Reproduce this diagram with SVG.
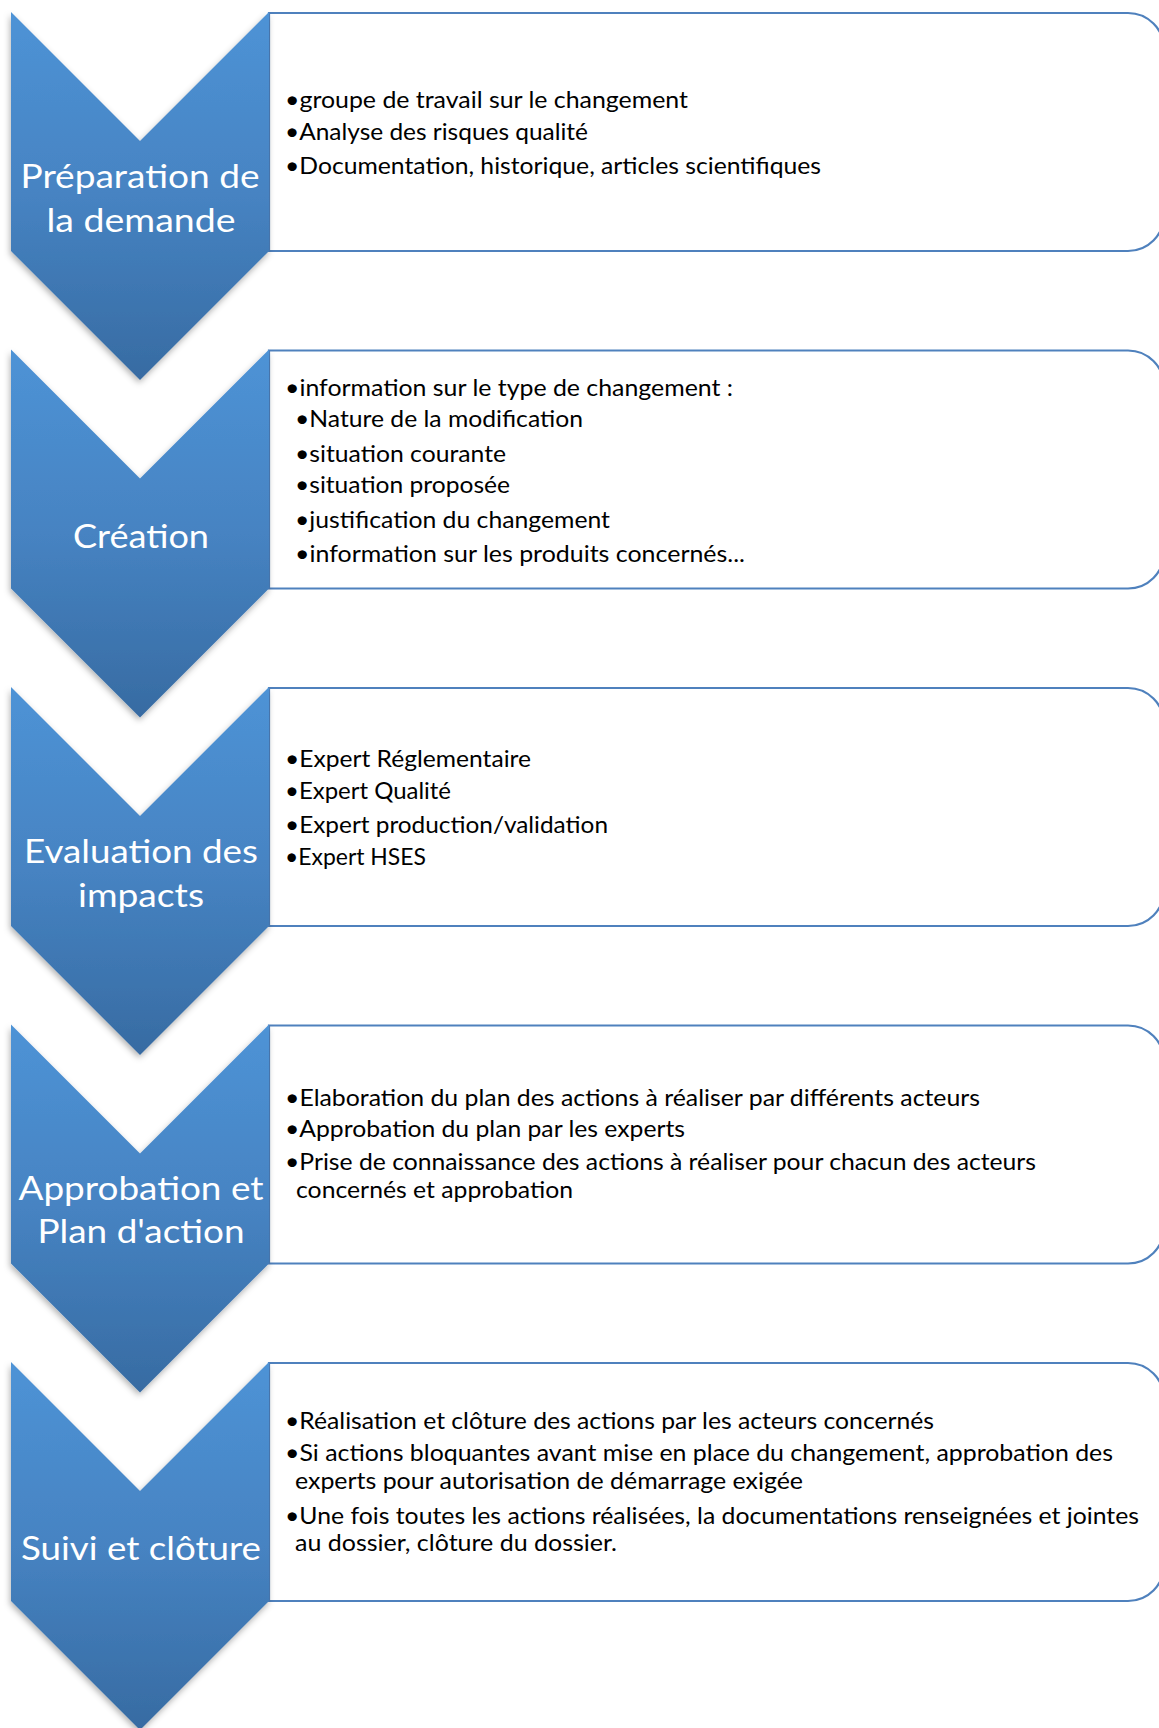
<svg xmlns="http://www.w3.org/2000/svg" width="1159" height="1728" viewBox="0 0 1159 1728">
<style>
.box{fill:#ffffff;stroke:#4F81BD;stroke-width:2.2}
.chev{fill:url(#cg);filter:url(#sh)}
.lbl{font-family:Lato,"Open Sans","Liberation Sans",sans-serif;font-size:33px;fill:#ffffff;text-anchor:middle}
.t{font-family:Lato,"Open Sans","Liberation Sans",sans-serif;font-size:24px;fill:#000000}
</style>
<defs>
<linearGradient id="cg" x1="0" y1="0" x2="0" y2="1">
<stop offset="0" stop-color="#4E93D6"/>
<stop offset="0.5" stop-color="#4683C2"/>
<stop offset="1" stop-color="#376BA2"/>
</linearGradient>
<filter id="sh" x="-10%" y="-10%" width="120%" height="120%">
<feDropShadow dx="-1" dy="3" stdDeviation="3" flood-color="#000000" flood-opacity="0.3"/>
</filter>
<path id="chevShape" d="M11,0 L140,129 L269,0 L269,239 L140,368 L11,239 Z"/>
<path id="boxShape" d="M269,1 H1128 A36,36 0 0 1 1164,37 V203 A36,36 0 0 1 1128,239 H269 Z"/>
</defs>
<g id="connectors"/>

<g id="step1" transform="translate(0,12)">
<use href="#boxShape" class="box"/>
<use href="#chevShape" class="chev"/>
</g>
<g id="step1-text">
<text class="lbl" x="140" y="188" textLength="239" lengthAdjust="spacingAndGlyphs">Préparation de</text>
<text class="lbl" x="141" y="232" textLength="189" lengthAdjust="spacingAndGlyphs">la demande</text>
<text class="t" x="285" y="108" textLength="403" lengthAdjust="spacingAndGlyphs">•groupe de travail sur le changement</text>
<text class="t" x="285" y="140" textLength="303" lengthAdjust="spacingAndGlyphs">•Analyse des risques qualité</text>
<text class="t" x="285" y="174" textLength="536" lengthAdjust="spacingAndGlyphs">•Documentation, historique, articles scientifiques</text>
</g>

<g id="step2" transform="translate(0,349.5)">
<use href="#boxShape" class="box"/>
<use href="#chevShape" class="chev"/>
</g>
<g id="step2-text">
<text class="lbl" x="141" y="548" textLength="136" lengthAdjust="spacingAndGlyphs">Création</text>
<text class="t" x="285" y="396" textLength="448" lengthAdjust="spacingAndGlyphs">•information sur le type de changement :</text>
<text class="t" x="295" y="427" textLength="288" lengthAdjust="spacingAndGlyphs">•Nature de la modification</text>
<text class="t" x="295" y="462" textLength="211" lengthAdjust="spacingAndGlyphs">•situation courante</text>
<text class="t" x="295" y="493" textLength="215" lengthAdjust="spacingAndGlyphs">•situation proposée</text>
<text class="t" x="295" y="528" textLength="315" lengthAdjust="spacingAndGlyphs">•justification du changement</text>
<text class="t" x="295" y="562" textLength="450" lengthAdjust="spacingAndGlyphs">•information sur les produits concernés...</text>
</g>

<g id="step3" transform="translate(0,687)">
<use href="#boxShape" class="box"/>
<use href="#chevShape" class="chev"/>
</g>
<g id="step3-text">
<text class="lbl" x="141" y="863" textLength="234" lengthAdjust="spacingAndGlyphs">Evaluation des</text>
<text class="lbl" x="141" y="907" textLength="126" lengthAdjust="spacingAndGlyphs">impacts</text>
<text class="t" x="285" y="767" textLength="246" lengthAdjust="spacingAndGlyphs">•Expert Réglementaire</text>
<text class="t" x="285" y="799" textLength="166" lengthAdjust="spacingAndGlyphs">•Expert Qualité</text>
<text class="t" x="285" y="833" textLength="323" lengthAdjust="spacingAndGlyphs">•Expert production/validation</text>
<text class="t" x="285" y="865" textLength="141" lengthAdjust="spacingAndGlyphs">•Expert HSES</text>
</g>

<g id="step4" transform="translate(0,1024.5)">
<use href="#boxShape" class="box"/>
<use href="#chevShape" class="chev"/>
</g>
<g id="step4-text">
<text class="lbl" x="141" y="1200" textLength="245" lengthAdjust="spacingAndGlyphs">Approbation et</text>
<text class="lbl" x="141" y="1243" textLength="207" lengthAdjust="spacingAndGlyphs">Plan d'action</text>
<text class="t" x="285" y="1106" textLength="695" lengthAdjust="spacingAndGlyphs">•Elaboration du plan des actions à réaliser par différents acteurs</text>
<text class="t" x="285" y="1137" textLength="400" lengthAdjust="spacingAndGlyphs">•Approbation du plan par les experts</text>
<text class="t" x="285" y="1170" textLength="751" lengthAdjust="spacingAndGlyphs">•Prise de connaissance des actions à réaliser pour chacun des acteurs</text>
<text class="t" x="296" y="1198" textLength="277" lengthAdjust="spacingAndGlyphs">concernés et approbation</text>
</g>

<g id="step5" transform="translate(0,1362)">
<use href="#boxShape" class="box"/>
<use href="#chevShape" class="chev"/>
</g>
<g id="step5-text">
<text class="lbl" x="141" y="1560" textLength="240" lengthAdjust="spacingAndGlyphs">Suivi et clôture</text>
<text class="t" x="285" y="1429" textLength="649" lengthAdjust="spacingAndGlyphs">•Réalisation et clôture des actions par les acteurs concernés</text>
<text class="t" x="285" y="1461" textLength="828" lengthAdjust="spacingAndGlyphs">•Si actions bloquantes avant mise en place du changement, approbation des</text>
<text class="t" x="295" y="1489" textLength="508" lengthAdjust="spacingAndGlyphs">experts pour autorisation de démarrage exigée</text>
<text class="t" x="285" y="1524" textLength="854" lengthAdjust="spacingAndGlyphs">•Une fois toutes les actions réalisées, la documentations renseignées et jointes</text>
<text class="t" x="295" y="1551" textLength="322" lengthAdjust="spacingAndGlyphs">au dossier, clôture du dossier.</text>
</g>
</svg>
